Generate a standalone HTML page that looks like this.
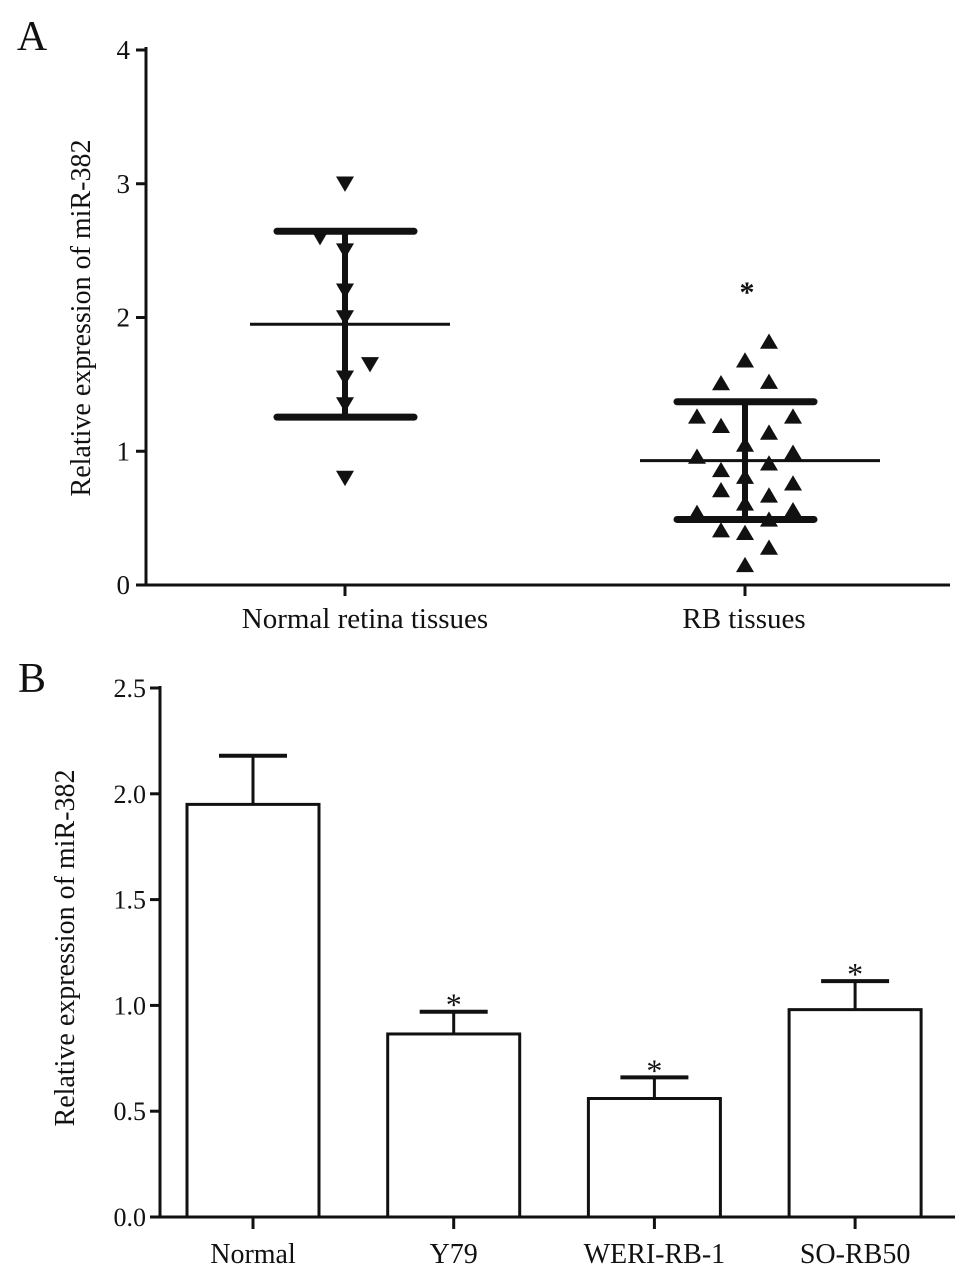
<!DOCTYPE html>
<html><head><meta charset="utf-8"><style>
body{margin:0;background:#fff;}
svg{display:block;font-family:"Liberation Serif",serif;}
</style></head><body>
<svg id="c" width="969" height="1278"></svg>
<script>
// Panel A data
const aCategories=["Normal retina tissues","RB tissues"];
const aNormalVals=[3.0,2.6,2.5,2.2,2.0,1.65,1.55,1.35,0.8];
const aNormalOffsets=[0,-1,0,0,0,1,0,0,0];
const aRBVals=[1.82,1.68,1.51,1.52,1.26,1.19,1.26,1.14,1.05,0.96,0.99,0.91,0.86,0.81,0.76,0.71,0.67,0.61,0.54,0.56,0.49,0.41,0.39,0.28,0.15];
const aRBOffsets=[1,0,-1,1,-2,-1,2,1,0,-2,2,1,-1,0,2,-1,1,0,-2,2,1,-1,0,1,0];
const aMeans=[1.95,0.93];
const aSD=[0.695,0.44];
const aTicks=[0,1,2,3,4];
// Panel B data
const bCategories=["Normal","Y79","WERI-RB-1","SO-RB50"];
const bValues=[1.95,0.865,0.56,0.98];
const bErrors=[0.23,0.105,0.10,0.135];
const bStars=[false,true,true,true];
const bTicks=["0.0","0.5","1.0","1.5","2.0","2.5"];

const svg=document.getElementById('c');
const NS='http://www.w3.org/2000/svg';
function mk(t,a,name,parent){const e=document.createElementNS(NS,t);for(const k in a)e.setAttribute(k,a[k]);


(parent||svg).appendChild(e);return e;}
function txt(x,y,s,size,anchor,name,extra){const e=mk('text',Object.assign({x:x,y:y,'font-size':size,'text-anchor':anchor||'middle',fill:'#111'},extra||{}),name);e.textContent=s;return e;}

// ---- Panel A ----
const ay=v=>585-v*133.75;
const ax=i=>345+i*400;
txt(32,50,"A",42,'middle','panel-a-label');
mk('line',{x1:146,y1:47,x2:146,y2:586,stroke:'#111','stroke-width':3},'panel-a-y-axis');
mk('line',{x1:145,y1:585,x2:950,y2:585,stroke:'#111','stroke-width':3},'panel-a-x-axis');
aTicks.forEach(t=>{mk('line',{x1:136,y1:ay(t),x2:146,y2:ay(t),stroke:'#111','stroke-width':3},'panel-a-y-tick');
txt(130,ay(t)+9,String(t),27,'end','panel-a-y-tick-label');});
const aLabelX=[365,744];
aCategories.forEach((c,i)=>{mk('line',{x1:ax(i),y1:585,x2:ax(i),y2:596,stroke:'#111','stroke-width':3},'panel-a-x-tick');
txt(aLabelX[i],628,c,29,'middle','panel-a-x-label');});
txt(0,0,"Relative expression of miR-382",28,'middle','panel-a-y-axis-title',{transform:'translate(90,318) rotate(-90)'});
function tri(x,y,down,name){const s=9;const p=down?`${x-s},${y-s*0.8} ${x+s},${y-s*0.8} ${x},${y+s*0.9}`:`${x-s},${y+s*0.8} ${x+s},${y+s*0.8} ${x},${y-s*0.9}`;mk('polygon',{points:p,fill:'#111'},name);}
aNormalVals.forEach((v,i)=>tri(ax(0)+aNormalOffsets[i]*25,ay(v),true,'normal-point'));
aRBVals.forEach((v,i)=>tri(ax(1)+aRBOffsets[i]*24,ay(v),false,'rb-point'));
[0,1].forEach(i=>{const m=aMeans[i],s=aSD[i];
mk('line',{x1:ax(i)-(i?105:95),y1:ay(m),x2:ax(i)+(i?135:105),y2:ay(m),stroke:'#111','stroke-width':3},'mean-line');
mk('line',{x1:ax(i),y1:ay(m+s),x2:ax(i),y2:ay(m-s),stroke:'#111','stroke-width':6},'sd-bar');
[m+s,m-s].forEach(v=>mk('line',{x1:ax(i)-68,y1:ay(v),x2:ax(i)+69,y2:ay(v),stroke:'#111','stroke-width':7,'stroke-linecap':'round'},'sd-cap'));});
txt(ax(1)+2,302,"*",30,'middle','rb-significance-star',{'font-weight':'bold'});

// ---- Panel B ----
const by=v=>1217-v*211.6;
const bx=i=>253+i*200.7;
txt(32,692,"B",42,'middle','panel-b-label');
mk('line',{x1:160,y1:686,x2:160,y2:1218,stroke:'#111','stroke-width':3},'panel-b-y-axis');
mk('line',{x1:159,y1:1217,x2:955,y2:1217,stroke:'#111','stroke-width':3},'panel-b-x-axis');
bTicks.forEach(t=>{const v=parseFloat(t);mk('line',{x1:150,y1:by(v),x2:160,y2:by(v),stroke:'#111','stroke-width':3},'panel-b-y-tick');
txt(146,by(v)+9,t,26,'end','panel-b-y-tick-label');});
txt(0,0,"Relative expression of miR-382",28,'middle','panel-b-y-axis-title',{transform:'translate(74,948) rotate(-90)'});
bCategories.forEach((c,i)=>{const x=bx(i),v=bValues[i],e=bErrors[i];
mk('line',{x1:x,y1:by(v+e),x2:x,y2:by(v),stroke:'#111','stroke-width':3},'error-bar');
mk('line',{x1:x-34,y1:by(v+e),x2:x+34,y2:by(v+e),stroke:'#111','stroke-width':4},'error-cap');
mk('rect',{x:x-66,y:by(v),width:132,height:by(0)-by(v),fill:'#fff',stroke:'#111','stroke-width':3},'bar-'+c.toLowerCase());
if(bStars[i])txt(x,by(v+e)+4,"*",32,'middle','significance-star');
mk('line',{x1:x,y1:1217,x2:x,y2:1229,stroke:'#111','stroke-width':3},'panel-b-x-tick');
txt(x,1263,c,28,'middle','panel-b-x-label');});
</script>
</body></html>
